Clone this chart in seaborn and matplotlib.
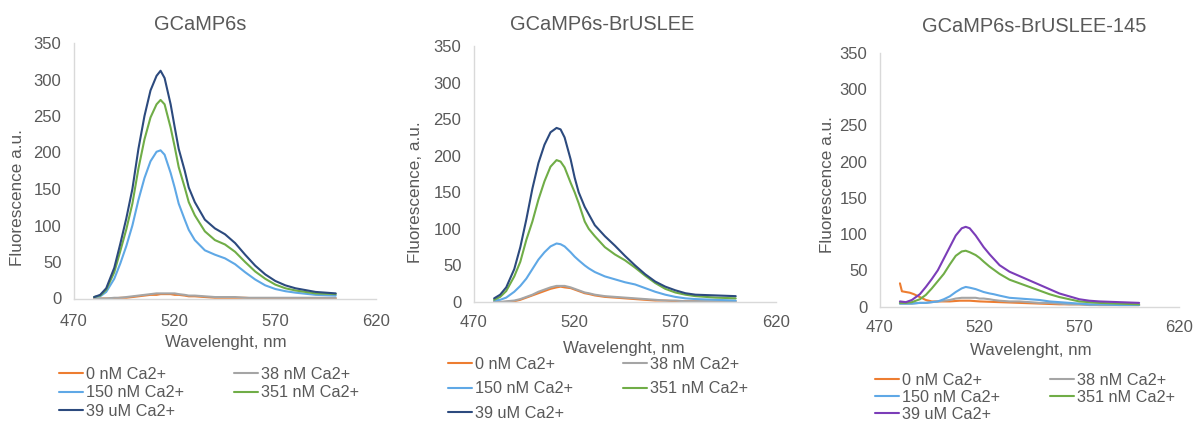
import matplotlib
matplotlib.use("Agg")
import matplotlib.pyplot as plt
import seaborn as sns
import pandas as pd

# ---------------- data ----------------
series_names = ["0 nM Ca2+", "38 nM Ca2+", "150 nM Ca2+", "351 nM Ca2+", "39 uM Ca2+"]
titles = ["GCaMP6s", "GCaMP6s-BrUSLEE", "GCaMP6s-BrUSLEE-145"]
ylabels = ["Fluorescence a.u.", "Fluorescence, a.u.", "Fluorescence a.u."]
xlabel = "Wavelenght, nm"
x_ticks = [470, 520, 570, 620]
y_ticks = [0, 50, 100, 150, 200, 250, 300, 350]

wavelength = [480, 483, 486, 490, 493, 496, 499, 502, 505, 508, 511, 513, 515, 518, 520,
              522, 525, 527, 530, 535, 540, 545, 550, 555, 560, 565, 570, 575, 580, 590, 600]

# GCaMP6s
p1_0nM = [0, 0, 0, 0, 1, 1, 2, 3, 4, 5, 5, 6, 6, 6, 5, 5, 4, 3, 3, 2, 1, 1, 1, 1, 0, 0, 0, 0, 0, 0, 0]
p1_38nM = [0, 0, 0, 1, 1, 2, 3, 4, 5, 6, 7, 7, 7, 7, 7, 6, 5, 4, 4, 3, 2, 2, 2, 1, 1, 1, 1, 1, 1, 1, 1]
p1_150nM = [2, 3, 9, 27, 48, 72, 100, 135, 165, 188, 201, 203, 197, 172, 152, 130, 108, 94, 80, 66,
            60, 55, 47, 36, 26, 18, 13, 10, 8, 5, 4]
p1_351nM = [2, 4, 12, 36, 65, 95, 130, 178, 218, 248, 266, 272, 266, 234, 208, 180, 152, 132, 114, 92,
            80, 74, 64, 50, 37, 27, 19, 14, 11, 7, 6]
p1_39uM = [2, 5, 14, 42, 75, 110, 150, 205, 250, 285, 305, 312, 302, 266, 235, 205, 175, 152, 132, 108,
           96, 88, 76, 60, 45, 33, 24, 18, 14, 9, 7]

# GCaMP6s-BrUSLEE
p2_0nM = [0, 0, 0, 1, 3, 6, 9, 12, 15, 18, 20, 21, 20, 19, 17, 15, 12, 11, 9, 7, 6, 5, 4, 3, 2, 2, 1, 1, 1, 0, 0]
p2_38nM = [0, 0, 1, 2, 4, 7, 10, 14, 17, 20, 22, 22, 22, 20, 18, 16, 13, 12, 10, 8, 7, 6, 5, 4, 3, 2, 2, 1, 1, 1, 1]
p2_150nM = [2, 3, 6, 14, 22, 32, 45, 58, 68, 76, 80, 79, 76, 68, 62, 57, 50, 46, 41, 35, 31, 27, 24, 19,
            14, 10, 7, 5, 4, 3, 2]
p2_351nM = [3, 7, 15, 35, 55, 85, 110, 140, 165, 185, 194, 192, 184, 163, 150, 135, 110, 100, 90, 75,
            65, 57, 47, 36, 26, 18, 13, 10, 8, 6, 5]
p2_39uM = [5, 10, 20, 45, 75, 113, 155, 190, 215, 232, 238, 236, 225, 195, 170, 150, 130, 120, 105, 90,
           77, 63, 50, 38, 28, 21, 16, 12, 10, 9, 8]

# GCaMP6s-BrUSLEE-145
p3_0nM_wl = [480, 481, 483, 485, 487, 490, 493, 496, 500, 505, 510, 515, 520, 530, 540, 550, 560, 570, 580, 590, 600]
p3_0nM = [32, 21, 20, 19, 17, 13, 9, 7, 7, 7, 8, 8, 7, 6, 5, 4, 3, 3, 2, 2, 2]
p3_38nM = [4, 4, 4, 5, 5, 6, 7, 8, 9, 11, 12, 12, 12, 12, 11, 11, 10, 9, 8, 7, 7, 6, 5, 5, 4, 3, 3, 2, 2, 2, 2]
p3_150nM = [4, 4, 4, 5, 5, 6, 7, 10, 14, 20, 25, 27, 26, 24, 22, 20, 18, 17, 15, 12, 11, 10, 9, 7,
            6, 5, 4, 3, 3, 2, 2]
p3_351nM = [5, 5, 6, 10, 16, 25, 35, 45, 58, 70, 76, 77, 75, 71, 67, 62, 55, 51, 45, 37, 32, 27, 22, 17,
            13, 10, 7, 6, 5, 4, 3]
p3_39uM = [7, 6, 9, 17, 27, 38, 50, 66, 82, 98, 108, 110, 108, 98, 90, 82, 72, 66, 57, 48, 42, 36, 30, 24,
           18, 14, 10, 8, 7, 6, 5]

panels = [
    [(wavelength, p1_0nM), (wavelength, p1_38nM), (wavelength, p1_150nM), (wavelength, p1_351nM), (wavelength, p1_39uM)],
    [(wavelength, p2_0nM), (wavelength, p2_38nM), (wavelength, p2_150nM), (wavelength, p2_351nM), (wavelength, p2_39uM)],
    [(p3_0nM_wl, p3_0nM), (wavelength, p3_38nM), (wavelength, p3_150nM), (wavelength, p3_351nM), (wavelength, p3_39uM)],
]
palettes = [
    ["#ED7D31", "#A5A5A5", "#5FA8E6", "#70AD47", "#2C4A7E"],
    ["#ED7D31", "#A5A5A5", "#5FA8E6", "#70AD47", "#2C4A7E"],
    ["#ED7D31", "#A5A5A5", "#5FA8E6", "#70AD47", "#7B3DB8"],
]

# ---------------- style ----------------
sns.set_theme(style="white")
plt.rcParams["font.family"] = ["Liberation Sans", "DejaVu Sans"]
TXT = "#595959"
SPINE = "#D9D9D9"

W, H = 1197, 423
fig = plt.figure(figsize=(W / 100, H / 100), dpi=100)

def fx(px):
    return px / W

def fy(py):
    return 1 - py / H

# axes boxes in pixel coords: left, right, top(350), bottom(0)
boxes = [(74, 376, 43, 298.5), (474, 776, 46, 302), (880, 1179, 53, 306.5)]
title_pos = [(200, 25), (602, 25), (1034, 27)]
ylabel_pos = [(18, 198), (415, 192), (827, 185)]
xlabel_pos = [(226, 342), (624, 349), (1031, 350)]
xtick_pad = [11, 9, 10]
legend_anchor = [(59, 367), (448, 357), (875, 373)]
legend_spacing = [0.2, 0.57, 0.12]

for i in range(3):
    l, r, t, b = boxes[i]
    ax = fig.add_axes([fx(l), fy(b), fx(r - l), (b - t) / H])
    rows = []
    for name, (xs, ys) in zip(series_names, panels[i]):
        for xv, yv in zip(xs, ys):
            rows.append({"wl": xv, "val": yv, "series": name})
    df = pd.DataFrame(rows)
    sns.lineplot(data=df, x="wl", y="val", hue="series", hue_order=series_names,
                 palette=palettes[i], ax=ax, legend=False, estimator=None, sort=False,
                 linewidth=1.5)
    ax.set_xlim(470, 620)
    ax.set_ylim(0, 350)
    ax.set_xticks(x_ticks)
    ax.set_yticks(y_ticks)
    ax.set_xlabel("")
    ax.set_ylabel("")
    for s in ["top", "right"]:
        ax.spines[s].set_visible(False)
    for s in ["left", "bottom"]:
        ax.spines[s].set_color(SPINE)
        ax.spines[s].set_linewidth(1.0)
    ax.tick_params(axis="x", length=0, pad=xtick_pad[i], labelsize=12, labelcolor=TXT)
    ax.tick_params(axis="y", length=0, pad=9, labelsize=12, labelcolor=TXT)

    tx, ty = title_pos[i]
    fig.text(fx(tx), fy(ty), titles[i], ha="center", va="center", fontsize=14.4, color=TXT)
    yx, yy = ylabel_pos[i]
    fig.text(fx(yx), fy(yy), ylabels[i], ha="center", va="center", rotation=90, fontsize=12.3, color=TXT)
    xx, xy = xlabel_pos[i]
    fig.text(fx(xx), fy(xy), xlabel, ha="center", va="center", fontsize=12.2, color=TXT)

    lines = ax.get_lines()[:5]
    order = [0, 2, 4, 1, 3]
    lx, ly = legend_anchor[i]
    leg = ax.legend([lines[k] for k in order], [series_names[k] for k in order],
                    ncol=2, loc="upper left", bbox_to_anchor=(fx(lx), fy(ly)),
                    bbox_transform=fig.transFigure, frameon=False, fontsize=11.7,
                    borderpad=0, borderaxespad=0, handlelength=1.45, handletextpad=0.2,
                    columnspacing=3.1, labelspacing=legend_spacing[i])
    for t in leg.get_texts():
        t.set_color(TXT)

fig.savefig("out.png", dpi=100)
